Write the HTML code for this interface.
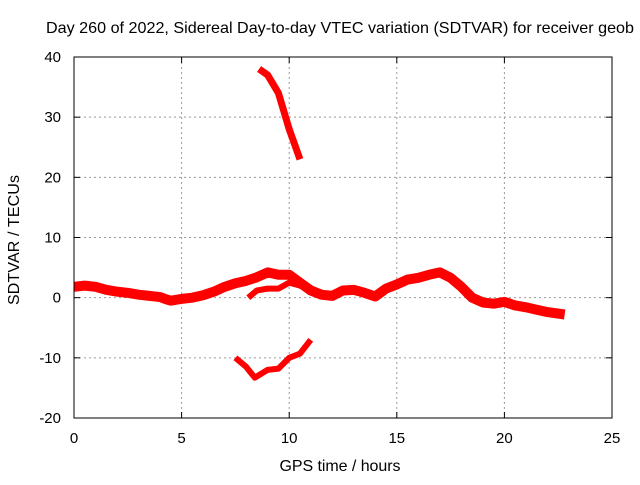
<!DOCTYPE html>
<html><head><meta charset="utf-8"><style>
body{margin:0;background:#fff;}
svg text{font-family:"Liberation Sans",sans-serif;font-size:15px;fill:#000;}
</style></head><body>
<svg id="c" width="640" height="480">
<rect width="640" height="480" fill="#fff"/>
<text x="46" y="33" textLength="588" lengthAdjust="spacingAndGlyphs" style="font-size:16px">Day 260 of 2022, Sidereal Day-to-day VTEC variation (SDTVAR) for receiver geob</text>
<text x="340" y="471" text-anchor="middle" textLength="121" style="font-size:16px">GPS time / hours</text>
<text transform="translate(19,240) rotate(-90)" text-anchor="middle" textLength="130" style="font-size:16px">SDTVAR / TECUs</text>
<g id="grid"></g><g id="series"></g>
<rect x="74" y="57" width="538" height="361" fill="none" stroke="#000"/>
</svg>
<script>
const xTicks=[0,5,10,15,20,25];
const yTicks=[-20,-10,0,10,20,30,40];
const mainX=[0,0.5,1,1.5,2,2.5,3,3.5,4,4.3,4.5,5,5.5,6,6.5,7,7.5,8,8.5,9,9.5,10,10.5,11,11.5,12,12.5,13,13.5,14,14.5,15,15.5,16,16.5,17,17.5,18,18.5,19,19.5,20,20.5,21,21.5,22,22.8];
const mainY=[1.8,2,1.8,1.3,1,0.8,0.5,0.3,0.1,-0.3,-0.5,-0.2,0,0.4,1,1.8,2.4,2.8,3.4,4.2,3.8,3.8,2.5,1.2,0.5,0.3,1.2,1.3,0.8,0.2,1.5,2.2,3,3.3,3.8,4.2,3.3,1.8,0,-0.8,-1,-0.7,-1.3,-1.6,-2,-2.4,-2.8];
const branchX=[8.1,8.5,9,9.5,10,10.5,11];
const branchY=[0,1.2,1.5,1.5,2.5,2,1.2];
const upperX=[8.6,9,9.5,10,10.3,10.5];
const upperY=[38,37,34,28,25,23];
const lowerX=[7.5,8,8.4,9,9.5,10,10.5,11];
const lowerY=[-10,-11.5,-13.3,-12,-11.8,-10,-9.3,-7];
const sx=v=>74+v*538/25, sy=v=>418-(v+20)*361/60;
const NS="http://www.w3.org/2000/svg";
const g=document.getElementById('grid'), s=document.getElementById('series');
function mk(tag,at,par){const e=document.createElementNS(NS,tag);for(const k in at)e.setAttribute(k,at[k]);par.appendChild(e);return e;}
xTicks.forEach(t=>{const x=sx(t);
 if(t>0&&t<25){const l=mk('line',{x1:x,x2:x,y1:57,y2:418,stroke:'#999','stroke-dasharray':'2,3'},g);
 
 }
 const tx=mk('text',{x:x,y:443,'text-anchor':'middle'},g);tx.textContent=t;
 
 
 mk('line',{x1:x,x2:x,y1:418,y2:412,stroke:'#000'},g);mk('line',{x1:x,x2:x,y1:57,y2:63,stroke:'#000'},g);});
yTicks.forEach(t=>{const y=sy(t);
 if(t>-20&&t<40){const l=mk('line',{x1:74,x2:612,y1:y,y2:y,stroke:'#999','stroke-dasharray':'2,3'},g);
 
 }
 const tx=mk('text',{x:61,y:y+5,'text-anchor':'end'},g);tx.textContent=t;
 
 
 mk('line',{x1:74,x2:80,y1:y,y2:y,stroke:'#000'},g);mk('line',{x1:612,x2:606,y1:y,y2:y,stroke:'#000'},g);});
function series(X,Y,w,name){const p=mk('polyline',{points:X.map((v,i)=>sx(v)+','+sy(Y[i])).join(' '),fill:'none',stroke:'#f00','stroke-width':w,'stroke-linejoin':'round'},s);
 
 }
series(mainX,mainY,10,'main-series');
series(branchX,branchY,6,'branch-series');
series(upperX,upperY,7,'upper-series');
series(lowerX,lowerY,6,'lower-series');
</script>
</body></html>
